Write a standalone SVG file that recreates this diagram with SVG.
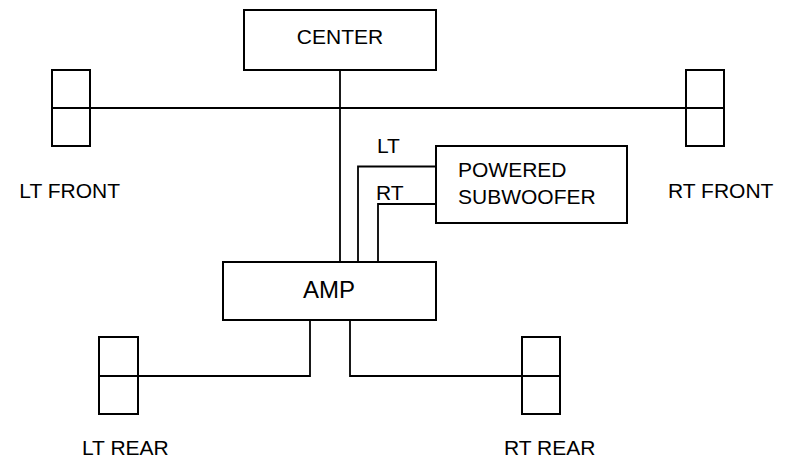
<svg xmlns="http://www.w3.org/2000/svg" width="788" height="466" viewBox="0 0 788 466">
<style>
.box{fill:#fff;stroke:#000;stroke-width:2}
.ln{fill:none;stroke:#000;stroke-width:1.8}
text{font-family:"Liberation Sans",Arial,sans-serif;font-size:21px;fill:#000}
</style>
<rect width="788" height="466" fill="#fff"/>
<g id="connectors">
<path class="ln" d="M90 108H686"/>
<path class="ln" d="M340 70V262"/>
<path class="ln" d="M436 166.5H358V262"/>
<path class="ln" d="M436 204H378V262"/>
<path class="ln" d="M310 318V376H138"/>
<path class="ln" d="M350 318V376H522"/>
</g>
<g id="center"><rect class="box" x="244" y="10" width="192" height="60"/><text x="340" y="44" text-anchor="middle">CENTER</text></g>
<g id="lt-front"><rect class="box" x="52" y="70" width="38" height="76"/><path class="ln" d="M52 108H90"/><text x="120" y="198" text-anchor="end">LT FRONT</text></g>
<g id="rt-front"><rect class="box" x="686" y="70" width="38" height="76"/><path class="ln" d="M686 108H724"/><text x="668" y="198">RT FRONT</text></g>
<g id="subwoofer"><rect class="box" x="436" y="146" width="191" height="77"/><text x="458" y="177">POWERED</text><text x="458" y="204">SUBWOOFER</text></g>
<g id="lt-label"><text x="377" y="153">LT</text></g>
<g id="rt-label"><text x="376" y="200">RT</text></g>
<g id="amp"><rect class="box" x="223" y="262" width="213" height="58"/><text x="329" y="298" text-anchor="middle" style="font-size:24px">AMP</text></g>
<g id="lt-rear"><rect class="box" x="99" y="337" width="39" height="77"/><path class="ln" d="M99 376H138"/><text x="82" y="455">LT REAR</text></g>
<g id="rt-rear"><rect class="box" x="522" y="337" width="38" height="77"/><path class="ln" d="M522 376H560"/><text x="504" y="455">RT REAR</text></g>
</svg>
